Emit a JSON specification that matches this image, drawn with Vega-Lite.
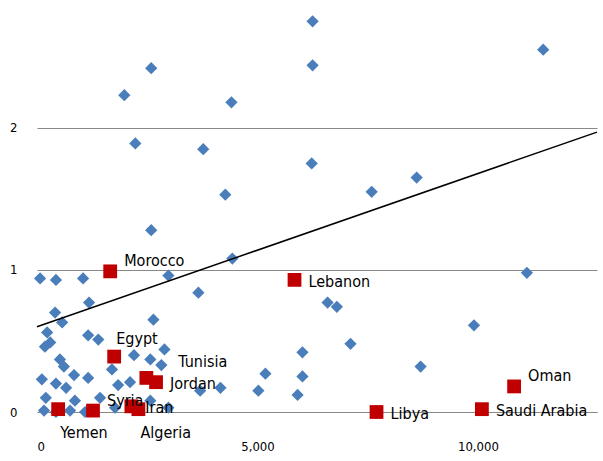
{
  "$schema": "https://vega.github.io/schema/vega-lite/v6.json",
  "width": 560,
  "height": 412,
  "autosize": {"type": "none"},
  "padding": {"left": 37, "top": 0, "right": 6, "bottom": 49},
  "config": {"view": {"stroke": null}, "font": "DejaVu Sans Condensed"},
  "datasets": {
    "others": [
      {"x": 6250, "y": 2.75}, {"x": 11480, "y": 2.55}, {"x": 6250, "y": 2.44}, {"x": 2590, "y": 2.42},
      {"x": 1980, "y": 2.23}, {"x": 4410, "y": 2.18}, {"x": 2230, "y": 1.89}, {"x": 3770, "y": 1.85},
      {"x": 6230, "y": 1.75}, {"x": 8610, "y": 1.65}, {"x": 7590, "y": 1.55}, {"x": 4270, "y": 1.53},
      {"x": 2590, "y": 1.28}, {"x": 4430, "y": 1.08}, {"x": 2980, "y": 0.96}, {"x": 1045, "y": 0.94},
      {"x": 70, "y": 0.94}, {"x": 430, "y": 0.93}, {"x": 11110, "y": 0.98}, {"x": 3660, "y": 0.84},
      {"x": 1180, "y": 0.77}, {"x": 6590, "y": 0.77}, {"x": 6800, "y": 0.74}, {"x": 410, "y": 0.7},
      {"x": 2640, "y": 0.65}, {"x": 570, "y": 0.63}, {"x": 9910, "y": 0.61}, {"x": 230, "y": 0.56},
      {"x": 1160, "y": 0.54}, {"x": 1390, "y": 0.51}, {"x": 300, "y": 0.49}, {"x": 180, "y": 0.46},
      {"x": 2890, "y": 0.44}, {"x": 7110, "y": 0.48}, {"x": 6020, "y": 0.42}, {"x": 2200, "y": 0.4},
      {"x": 520, "y": 0.37}, {"x": 2570, "y": 0.37}, {"x": 610, "y": 0.32}, {"x": 1700, "y": 0.3},
      {"x": 2820, "y": 0.33}, {"x": 8700, "y": 0.32}, {"x": 840, "y": 0.26}, {"x": 110, "y": 0.23},
      {"x": 5180, "y": 0.27}, {"x": 6020, "y": 0.25}, {"x": 1160, "y": 0.24}, {"x": 430, "y": 0.2},
      {"x": 1840, "y": 0.19}, {"x": 2110, "y": 0.21}, {"x": 660, "y": 0.17}, {"x": 4160, "y": 0.17},
      {"x": 5020, "y": 0.15}, {"x": 3700, "y": 0.15}, {"x": 5910, "y": 0.12}, {"x": 200, "y": 0.1},
      {"x": 860, "y": 0.08}, {"x": 1430, "y": 0.1}, {"x": 2570, "y": 0.08}, {"x": 160, "y": 0.01},
      {"x": 430, "y": 0.0}, {"x": 750, "y": 0.01}, {"x": 1770, "y": 0.03}, {"x": 2980, "y": 0.03},
      {"x": 1090, "y": 0.0}
    ],
    "mena": [
      {"country": "Morocco", "x": 1660, "y": 0.99, "pos": "ru"},
      {"country": "Lebanon", "x": 5840, "y": 0.93, "pos": "r"},
      {"country": "Egypt", "x": 1750, "y": 0.39, "pos": "u"},
      {"country": "Tunisia", "x": 2480, "y": 0.24, "pos": "tu"},
      {"country": "Jordan", "x": 2700, "y": 0.21, "pos": "r"},
      {"country": "Syria", "x": 1270, "y": 0.01, "pos": "ru"},
      {"country": "Yemen", "x": 480, "y": 0.02, "pos": "d"},
      {"country": "Iran", "x": 2140, "y": 0.04, "pos": "r"},
      {"country": "Algeria", "x": 2300, "y": 0.02, "pos": "d"},
      {"country": "Libya", "x": 7700, "y": 0.0, "pos": "r"},
      {"country": "Saudi Arabia", "x": 10090, "y": 0.02, "pos": "r"},
      {"country": "Oman", "x": 10820, "y": 0.18, "pos": "ru"}
    ],
    "trend": [{"x": 0, "y": 0.6}, {"x": 12700, "y": 1.97}]
  },
  "encoding": {
    "x": {"field": "x", "type": "quantitative", "scale": {"domain": [0, 12700], "nice": false},
      "axis": {"title": null, "values": [0, 5000, 10000], "format": ",.0f", "grid": false, "ticks": false, "domainColor": "#888", "labelFontSize": 13, "labelColor": "#000", "labelPadding": 28}},
    "y": {"field": "y", "type": "quantitative", "scale": {"domain": [0, 2.9], "nice": false},
      "axis": {"title": null, "values": [0, 1, 2], "format": ".0f", "grid": true, "gridColor": "#888", "domain": false, "ticks": false, "labelFontSize": 13, "labelColor": "#000", "labelPadding": 20}}
  },
  "layer": [
    {"data": {"name": "others"}, "mark": {"type": "point", "shape": "diamond", "filled": true, "color": "#4a7ebb", "size": 150, "opacity": 1, "clip": false}},
    {"data": {"name": "trend"}, "mark": {"type": "line", "color": "#000", "strokeWidth": 1.5}},
    {"data": {"name": "mena"}, "mark": {"type": "square", "color": "#c00000", "size": 190, "opacity": 1, "clip": false}},
    {"data": {"name": "mena"}, "transform": [{"filter": "datum.pos == 'r'"}],
      "mark": {"type": "text", "align": "left", "dx": 14, "dy": 2, "fontSize": 16}, "encoding": {"text": {"field": "country"}}},
    {"data": {"name": "mena"}, "transform": [{"filter": "datum.pos == 'ru'"}],
      "mark": {"type": "text", "align": "left", "dx": 14, "dy": -10, "fontSize": 16}, "encoding": {"text": {"field": "country"}}},
    {"data": {"name": "mena"}, "transform": [{"filter": "datum.pos == 'tu'"}],
      "mark": {"type": "text", "align": "left", "dx": 32, "dy": -16, "fontSize": 16}, "encoding": {"text": {"field": "country"}}},
    {"data": {"name": "mena"}, "transform": [{"filter": "datum.pos == 'u'"}],
      "mark": {"type": "text", "align": "left", "dx": 2, "dy": -18, "fontSize": 16}, "encoding": {"text": {"field": "country"}}},
    {"data": {"name": "mena"}, "transform": [{"filter": "datum.pos == 'd'"}],
      "mark": {"type": "text", "align": "left", "dx": 2, "dy": 24, "fontSize": 16}, "encoding": {"text": {"field": "country"}}}
  ]
}
